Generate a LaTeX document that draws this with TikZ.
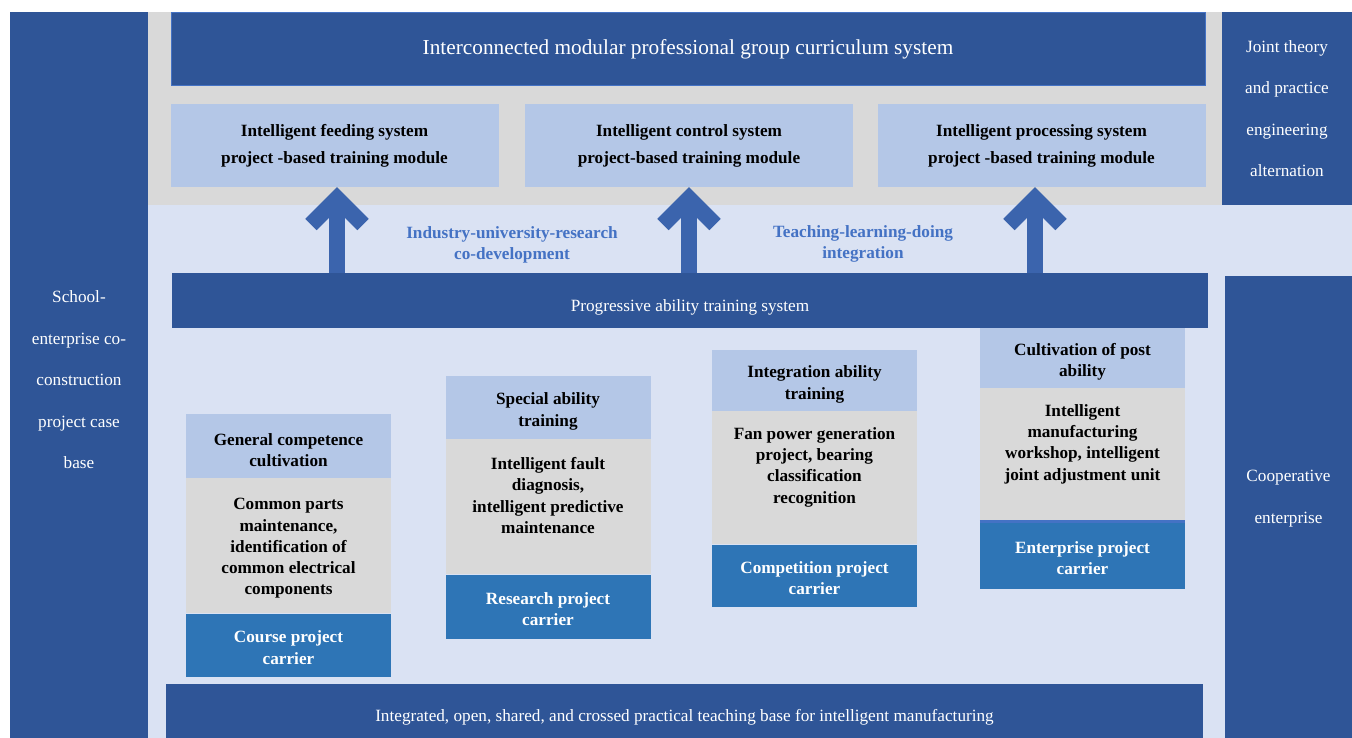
\documentclass[tikz,border=0pt]{standalone}
\usepackage{fontspec}
\setmainfont{Liberation Serif}
\usetikzlibrary{positioning,arrows.meta}
\definecolor{darkblue}{RGB}{47,85,151}
\definecolor{boxgray}{RGB}{217,217,217}
\definecolor{paleblue}{RGB}{218,226,243}
\definecolor{headblue}{RGB}{180,199,231}
\definecolor{footblue}{RGB}{46,117,182}
\definecolor{textblue}{RGB}{68,114,196}
\definecolor{arrowblue}{RGB}{59,100,173}

\begin{document}
\begin{tikzpicture}[x=1pt, y=-1pt,
  bar/.style={fill=darkblue, text=white, inner sep=0pt, align=center, text height=25.7pt, font=\fontsize{17.2}{21}\selectfont},
  column/.style={fill=darkblue, text=white, inner sep=0pt, align=center, font=\fontsize{17.2}{41.5}\selectfont},
  module/.style={fill=headblue, inner sep=0pt, minimum width=328pt, minimum height=83pt, align=center, font=\bfseries\fontsize{17.2}{27}\selectfont},
  cardhead/.style={fill=headblue, inner sep=0pt, minimum width=205pt, align=center, text height=41pt, font=\bfseries\fontsize{17.2}{21.3}\selectfont},
  cardbody/.style={fill=boxgray, inner sep=0pt, minimum width=205pt},
  cardtext/.style={inner sep=0pt, align=center, font=\bfseries\fontsize{17.2}{21.3}\selectfont},
  cardfoot/.style={fill=footblue, text=white, inner sep=0pt, minimum width=205pt, align=center, text height=38pt, font=\bfseries\fontsize{17.2}{21.3}\selectfont},
  flowlabel/.style={inner sep=0pt, align=center, text=textblue, text height=36.7pt, font=\bfseries\fontsize{17.2}{21}\selectfont},
  uparrow/.style={draw=arrowblue, line width=16pt, -{Straight Barb[length=26pt, width=52pt, sharp]}}]

\useasboundingbox (0,0) rectangle (1352,738);

%background
\fill[white] (0,0) rectangle (1352,738);
\fill[boxgray] (148,12) rectangle (1222,205);
\fill[paleblue] (148,205) rectangle (1352,738);

%side columns
\node[column, minimum width=138pt, minimum height=726pt, text height=187.7pt] at (79,375)(school){School-\\enterprise co-\\construction\\project case\\base};
\node[column, minimum width=130pt, minimum height=193pt] at (1287,108.5)(joint){Joint theory\\and practice\\engineering\\alternation};
\node[column, minimum width=127pt, minimum height=462pt, text depth=20pt] at (1288.5,507)(coop){Cooperative\\enterprise};

%curriculum system
\node[bar, draw=textblue, line width=1pt, minimum width=1034pt, minimum height=73pt, text height=15pt, font=\fontsize{21.3}{25}\selectfont] at (688,49.5)(title){Interconnected modular professional group curriculum system};

\node[module] at (334.5,145.5)(m1){Intelligent feeding system\\project -based training module};
\node[module] at (689,145.5)(m2){Intelligent control system\\project-based training module};
\node[module] at (1041.5,145.5)(m3){Intelligent processing system\\project -based training module};

%ability system
\node[bar, minimum width=1036pt, minimum height=55pt] at (690,300.5)(pat){Progressive ability training system};

\draw[uparrow] ([xshift=2.5pt]m1.south |- pat.north) -- ([xshift=2.5pt]m1.south);
\draw[uparrow] (m2.south |- pat.north) -- (m2.south);
\draw[uparrow] ([xshift=-6.5pt]m3.south |- pat.north) -- ([xshift=-6.5pt]m3.south);

\node[flowlabel] at (512,242.5)(iur){Industry-university-research\\co-development};
\node[flowlabel] at (863,242.5)(tld){Teaching-learning-doing\\integration};

%cards
\node[cardhead, minimum height=64pt] at (288.5,446)(h1){General competence\\cultivation};
\node[cardbody, minimum height=135pt, below=0pt of h1](b1){};
\node[cardfoot, minimum height=63pt, below=0pt of b1](f1){Course project\\carrier};
\node[cardtext, below=20pt of b1.north](t1){Common parts\\maintenance,\\identification of\\common electrical\\components};

\node[cardhead, minimum height=63pt] at (548,407.5)(h2){Special ability\\training};
\node[cardbody, minimum height=135pt, below=0pt of h2](b2){};
\node[cardfoot, minimum height=64pt, below=0pt of b2](f2){Research project\\carrier};
\node[cardtext, below=18pt of b2.north](t2){Intelligent fault\\diagnosis,\\intelligent predictive\\maintenance};

\node[cardhead, minimum height=61pt] at (814.5,380.5)(h3){Integration ability\\training};
\node[cardbody, minimum height=133pt, below=0pt of h3](b3){};
\node[cardfoot, minimum height=62pt, below=0pt of b3](f3){Competition project\\carrier};
\node[cardtext, below=16pt of b3.north](t3){Fan power generation\\project, bearing\\classification\\recognition};

\node[cardhead, minimum height=60pt] at (1082.5,358)(h4){Cultivation of post\\ability};
\node[cardbody, minimum height=134pt, below=0pt of h4](b4){};
\node[cardfoot, minimum height=66pt, below=0pt of b4](f4){Enterprise project\\carrier};
\node[cardtext, below=16pt of b4.north](t4){Intelligent\\manufacturing\\workshop, intelligent\\joint adjustment unit};
\draw[textblue, line width=3pt] ([yshift=1.5pt]f4.north west) -- ([yshift=1.5pt]f4.north east);

%teaching base
\node[bar, minimum width=1037pt, minimum height=54pt] at (684.5,711)(base){Integrated, open, shared, and crossed practical teaching base for intelligent manufacturing};

\end{tikzpicture}
\end{document}
